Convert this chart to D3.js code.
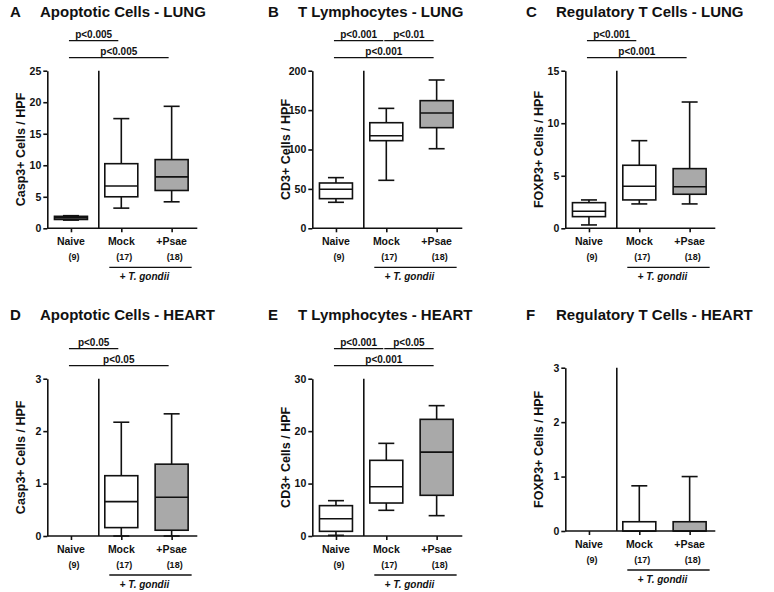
<!DOCTYPE html>
<html><head><meta charset="utf-8">
<script src="https://cdn.jsdelivr.net/npm/d3@7"></script>
<style>
body{margin:0;background:#fff}
svg{display:block}
text{font-family:"Liberation Sans",Arial,Helvetica,sans-serif;font-weight:bold;fill:#111}
</style>
</head><body><svg id="c" width="774" height="592"></svg>
<script>
// ---------- data ----------
const categories = ["Naive", "Mock", "+Psae"];
const groupSizes = ["(9)", "(17)", "(18)"];
const treatmentName = "T. gondii";
const panelLetters = ["A", "B", "C", "D", "E", "F"];
const panelTitles = ["Apoptotic Cells - LUNG", "T Lymphocytes - LUNG", "Regulatory T Cells - LUNG",
                     "Apoptotic Cells - HEART", "T Lymphocytes - HEART", "Regulatory T Cells - HEART"];
const yAxisLabels = ["Casp3+ Cells / HPF", "CD3+ Cells / HPF", "FOXP3+ Cells / HPF",
                     "Casp3+ Cells / HPF", "CD3+ Cells / HPF", "FOXP3+ Cells / HPF"];
const yDomainMax = [25, 200, 15, 3, 30, 3];
const yTickValues = [[0,5,10,15,20,25], [0,50,100,150,200], [0,5,10,15], [0,1,2,3], [0,10,20,30], [0,1,2,3]];
// box stats per group: [min, q1, median, q3, max]
const casp3Lung  = [[1.3, 1.4, 1.65, 1.9, 2.0], [3.2, 5.0, 6.7, 10.25, 17.4], [4.2, 6.0, 8.15, 10.9, 19.35]];
const cd3Lung    = [[33, 37.6, 49.5, 57.5, 64.3], [60.9, 111.2, 117.5, 134, 152.2], [101, 127.7, 146.3, 162, 188.2]];
const foxp3Lung  = [[0.32, 1.11, 1.62, 2.44, 2.7], [2.32, 2.7, 4.0, 6.0, 8.34], [2.32, 3.24, 3.95, 5.68, 12.02]];
const casp3Heart = [null, [0, 0.16, 0.655, 1.15, 2.17], [0, 0.11, 0.74, 1.37, 2.33]];
const cd3Heart   = [[0.13, 0.89, 3.3, 5.79, 6.74], [4.9, 6.29, 9.4, 14.43, 17.67], [3.88, 7.76, 16.0, 22.25, 24.86]];
const foxp3Heart = [null, [0, 0, 0, 0.17, 0.83], [0, 0, 0, 0.17, 1.0]];
// significance brackets: [from, to, label, level]
const sigA = [["Naive", "Mock", "p<0.005", 0], ["Naive", "+Psae", "p<0.005", 1]];
const sigB = [["Naive", "Mock", "p<0.001", 0], ["Mock", "+Psae", "p<0.01", 0], ["Naive", "+Psae", "p<0.001", 1]];
const sigC = [["Naive", "Mock", "p<0.001", 0], ["Naive", "+Psae", "p<0.001", 1]];
const sigD = [["Naive", "Mock", "p<0.05", 0], ["Naive", "+Psae", "p<0.05", 1]];
const sigE = [["Naive", "Mock", "p<0.001", 0], ["Mock", "+Psae", "p<0.05", 0], ["Naive", "+Psae", "p<0.001", 1]];
const sigF = [];

const boxData = [casp3Lung, cd3Lung, foxp3Lung, casp3Heart, cd3Heart, foxp3Heart];
const sigData = [sigA, sigB, sigC, sigD, sigE, sigF];

// ---------- layout / style ----------
const groupFill = ["#ffffff", "#ffffff", "#a9a9a9"];
const originX = [0, 258, 516, 0, 258, 516];
const axisLeft = [47.3, 312.3, 565.3, 47.3, 312.3, 565.3];
const axisTop = [70.7, 70.7, 70.7, 378.7, 378.7, 367.7];
const axisBottom = [228.3, 228.3, 228.3, 536, 536, 531];
const titleBase = [16.7, 16.7, 16.7, 320, 320, 320];
const plotW = 150, boxW = 33, capW = 16, SW = 1.6, INK = "#111";

const svg = d3.select("#c");

panelLetters.forEach((letter, i) => {
  const L = axisLeft[i], top = axisTop[i], bot = axisBottom[i];
  const g = svg.append("g");
  const y = d3.scaleLinear().domain([0, yDomainMax[i]]).range([bot, top]);
  const x = d3.scalePoint().domain(categories).range([L, L + 148]).padding(0.47);

  // titles
  g.append("text").attr("x", originX[i] + 10).attr("y", titleBase[i])
    .style("font-size", "15px").text(letter);
  g.append("text").attr("x", originX[i] + 40).attr("y", titleBase[i])
    .style("font-size", "15px").text(panelTitles[i]);

  // y axis
  const ya = g.append("g").attr("transform", `translate(${L},0)`)
    .call(d3.axisLeft(y).tickValues(yTickValues[i]).tickFormat(d3.format("d"))
      .tickSize(4).tickSizeOuter(0).tickPadding(2));
  ya.select(".domain").attr("stroke", INK).attr("stroke-width", SW);
  ya.selectAll(".tick line").attr("stroke", INK).attr("stroke-width", SW);
  ya.selectAll(".tick text").style("font-size", "10.5px").style("font-family", '"Liberation Sans",Arial,sans-serif')
    .style("font-weight", "bold").attr("fill", INK);

  // y label
  g.append("text").attr("transform", `translate(${L - 22},${(top + bot) / 2}) rotate(-90)`)
    .attr("text-anchor", "middle").style("font-size", "12.5px").text(yAxisLabels[i]);

  // x axis
  const xa = g.append("g").attr("transform", `translate(0,${bot})`)
    .call(d3.axisBottom(x).tickSize(4).tickSizeOuter(0).tickFormat(""));
  xa.select(".domain").remove();
  xa.selectAll(".tick line").attr("stroke", INK).attr("stroke-width", SW);
  g.append("line").attr("x1", L).attr("x2", L + plotW).attr("y1", bot).attr("y2", bot)
    .attr("stroke", INK).attr("stroke-width", SW);

  // divider
  g.append("line").attr("x1", L + 51.5).attr("x2", L + 51.5).attr("y1", top).attr("y2", bot)
    .attr("stroke", INK).attr("stroke-width", SW);

  // category labels
  categories.forEach((c, k) => {
    g.append("text").attr("x", x(c)).attr("y", bot + 16.5).attr("text-anchor", "middle")
      .style("font-size", "10.5px").text(c);
    g.append("text").attr("x", x(c) + 3).attr("y", bot + 31.5).attr("text-anchor", "middle")
      .style("font-size", "9px").text(groupSizes[k]);
  });

  // treatment bracket
  const tx1 = x("Mock") - 12, tx2 = x("+Psae") + 20;
  g.append("line").attr("x1", tx1).attr("x2", tx2).attr("y1", bot + 39).attr("y2", bot + 39)
    .attr("stroke", INK).attr("stroke-width", 1.3);
  const tt = g.append("text").attr("x", (tx1 + tx2) / 2 - 6).attr("y", bot + 51.5)
    .attr("text-anchor", "middle").style("font-size", "10px");
  tt.append("tspan").text("+ ");
  tt.append("tspan").style("font-style", "italic").text(treatmentName);

  // boxes
  boxData[i].forEach((s, k) => {
    if (!s) return;
    const [mn, q1, md, q3, mx] = s;
    const cx = x(categories[k]);
    const bg = g.append("g").attr("stroke", INK).attr("stroke-width", SW);
    bg.append("line").attr("x1", cx).attr("x2", cx).attr("y1", y(mn)).attr("y2", y(q1));
    bg.append("line").attr("x1", cx).attr("x2", cx).attr("y1", y(q3)).attr("y2", y(mx));
    bg.append("line").attr("x1", cx - capW / 2).attr("x2", cx + capW / 2).attr("y1", y(mn)).attr("y2", y(mn));
    bg.append("line").attr("x1", cx - capW / 2).attr("x2", cx + capW / 2).attr("y1", y(mx)).attr("y2", y(mx));
    bg.append("rect").attr("x", cx - boxW / 2).attr("width", boxW)
      .attr("y", y(q3)).attr("height", Math.max(0, y(q1) - y(q3))).attr("fill", groupFill[k]);
    bg.append("line").attr("x1", cx - boxW / 2).attr("x2", cx + boxW / 2).attr("y1", y(md)).attr("y2", y(md));
  });

  // significance brackets
  sigData[i].forEach(([a, b, lab, lvl]) => {
    const yy = top - 30 + lvl * 17;
    const x1 = x(a) - 2, x2 = x(b) - 3;
    g.append("line").attr("x1", x1).attr("x2", x2).attr("y1", yy).attr("y2", yy)
      .attr("stroke", INK).attr("stroke-width", 1.3);
    g.append("text").attr("x", (x1 + x2) / 2).attr("y", yy - 3).attr("text-anchor", "middle")
      .style("font-size", "10px").text(lab);
  });
});
</script>
</body></html>
